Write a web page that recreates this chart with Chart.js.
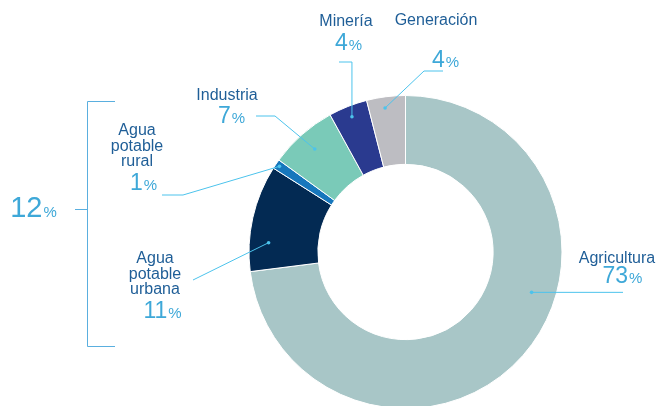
<!DOCTYPE html>
<html lang="es">
  <head>
    <meta charset="UTF-8" />
    <title>Uso del agua por sector</title>
    <script src="https://cdn.jsdelivr.net/npm/chart.js"></script>
    <style>
      body {
        margin: 0;
        background: #fff;
        overflow: hidden;
      }
      canvas {
        display: block;
      }
    </style>
  </head>
  <body>
    <canvas id="usoChart" width="659" height="420"></canvas>

    <script>
      // Data
      const sectors = [
        "Agricultura",
        "Agua potable urbana",
        "Agua potable rural",
        "Industria",
        "Minería",
        "Generación",
      ];
      const shares = [73, 11, 1, 7, 4, 4];
      const sliceColors = ["#a8c6c7", "#032a53", "#1777bc", "#7acab8", "#2a3a8f", "#bdbdc2"];

      const labelColor = "#1f5e97";
      const pctColor = "#3ea8d8";
      const leaderColor = "#4cc3ec";
      const font = '"Liberation Sans", Arial, sans-serif';

      // Label layout, one entry per slice (same order as sectors)
      // t = position along the arc, f = position across the ring
      // a null coordinate in a path point means "same as the dot"
      const callouts = [
        { lines: ["Agricultura"], lx: 617, ly: 263, px: 622, py: 283, t: 0.41, f: 0.65, path: [[623, null]] },
        { lines: ["Agua", "potable", "urbana"], lx: 155, ly: 263, px: 162, py: 318, t: 0.28, f: 0.72, path: [[193, 280]] },
        { lines: ["Agua", "potable", "rural"], lx: 137, ly: 135, px: 143, py: 190, t: 0.5, f: 0.94, path: [[183, 195], [162, 195]] },
        { lines: ["Industria"], lx: 227, ly: 100, px: 231, py: 123, t: 0.5, f: 0.72, path: [[275, 116], [256, 116]] },
        { lines: ["Minería"], lx: 346, ly: 26, px: 348, py: 50, t: 0.5, f: 0.84, path: [[null, 62], [339, 62]] },
        { lines: ["Generación"], lx: 436, ly: 25, px: 445, py: 67, t: 0.44, f: 0.84, path: [[424, 71], [443, 71]] },
      ];

      function drawPct(ctx, value, cx, y, numSize, pctSize) {
        ctx.textAlign = "left";
        ctx.textBaseline = "alphabetic";
        ctx.fillStyle = pctColor;
        ctx.font = numSize + "px " + font;
        const num = String(value);
        const w1 = ctx.measureText(num).width;
        ctx.font = pctSize + "px " + font;
        const w2 = ctx.measureText("%").width;
        const x0 = cx - (w1 + w2) / 2;
        ctx.font = numSize + "px " + font;
        ctx.fillText(num, x0, y);
        ctx.font = pctSize + "px " + font;
        ctx.fillText("%", x0 + w1 + 1, y);
      }

      const calloutPlugin = {
        id: "callouts",
        afterDatasetsDraw(chart) {
          const ctx = chart.ctx;
          const arcs = chart.getDatasetMeta(0).data;
          ctx.save();

          arcs.forEach((arc, i) => {
            const c = callouts[i];
            const p = arc.getProps(["x", "y", "startAngle", "endAngle", "innerRadius", "outerRadius"], true);
            const a = p.startAngle + c.t * (p.endAngle - p.startAngle);
            const r = p.innerRadius + c.f * (p.outerRadius - p.innerRadius);
            const dx = p.x + Math.cos(a) * r;
            const dy = p.y + Math.sin(a) * r;

            ctx.strokeStyle = leaderColor;
            ctx.lineWidth = 1;
            ctx.beginPath();
            ctx.moveTo(dx, dy);
            c.path.forEach((pt) => ctx.lineTo(pt[0] === null ? dx : pt[0], pt[1] === null ? dy : pt[1]));
            ctx.stroke();
            ctx.fillStyle = leaderColor;
            ctx.beginPath();
            ctx.arc(dx, dy, 1.8, 0, Math.PI * 2);
            ctx.fill();

            ctx.fillStyle = labelColor;
            ctx.font = "16px " + font;
            ctx.textAlign = "center";
            ctx.textBaseline = "alphabetic";
            c.lines.forEach((line, k) => ctx.fillText(line, c.lx, c.ly + k * 15.5));

            drawPct(ctx, shares[i], c.px, c.py, 23, 15);
          });

          // bracket grouping the two "Agua potable" slices
          ctx.strokeStyle = "#5aafdf";
          ctx.lineWidth = 1;
          ctx.beginPath();
          ctx.moveTo(115, 101.5);
          ctx.lineTo(87.5, 101.5);
          ctx.lineTo(87.5, 346.5);
          ctx.lineTo(115, 346.5);
          ctx.moveTo(75, 209.5);
          ctx.lineTo(87.5, 209.5);
          ctx.stroke();
          drawPct(ctx, shares[1] + shares[2], 33, 217, 29, 15);

          ctx.restore();
        },
      };

      new Chart(document.getElementById("usoChart"), {
        type: "doughnut",
        data: {
          labels: sectors,
          datasets: [
            {
              data: shares,
              backgroundColor: sliceColors,
              borderColor: "#ffffff",
              borderWidth: 1,
            },
          ],
        },
        options: {
          responsive: false,
          animation: false,
          cutout: "56%",
          layout: { padding: { left: 248, right: 96, top: 95, bottom: 11 } },
          plugins: {
            legend: { display: false },
            tooltip: { enabled: false },
          },
        },
        plugins: [calloutPlugin],
      });
    </script>
  </body>
</html>
